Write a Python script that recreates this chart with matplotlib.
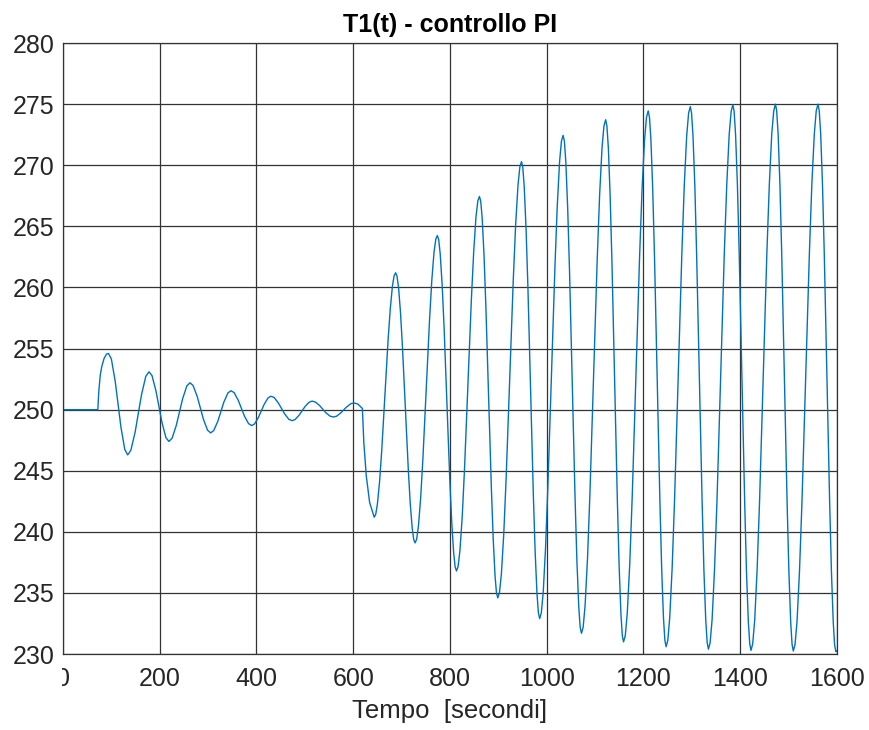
import numpy as np
import matplotlib
matplotlib.use("Agg")
import matplotlib.pyplot as plt
from matplotlib.transforms import Bbox

# T1(t): fase smorzata (0-619 s)
t_damped = [0, 72, 74, 77, 80, 85, 90, 94,
            100.0, 107.9, 113.9, 119.8, 127.7, 133.7,
            140.3, 149.1, 155.8, 162.4, 171.2, 177.8,
            184.0, 192.2, 198.4, 204.6, 212.8, 219.0,
            225.5, 234.2, 240.8, 247.3, 256.0, 262.5,
            268.9, 277.5, 283.9, 290.3, 298.9, 305.3,
            311.6, 320.0, 326.3, 332.6, 341.0, 347.3,
            353.7, 362.2, 368.7, 375.1, 383.6, 390.0,
            396.0, 404.0, 410.0, 416.0, 424.0, 430.0,
            436.5, 445.2, 451.8, 458.3, 467.0, 473.5,
            479.7, 488.0, 494.3, 500.5, 508.8, 515.0,
            521.6, 530.3, 536.9, 543.5, 552.2, 558.8,
            565.3, 573.9, 580.4, 586.9, 595.5, 602.0,
            610.0, 619.0]
T1_damped = [250.0, 250.0, 251.5, 252.8, 253.5, 254.2, 254.55, 254.6,
             254.15, 252.33, 250.45, 248.57, 246.75, 246.3,
             246.67, 248.16, 249.7, 251.24, 252.73, 253.1,
             252.79, 251.54, 250.25, 248.96, 247.71, 247.4,
             247.66, 248.71, 249.8, 250.89, 251.94, 252.2,
             251.98, 251.08, 250.15, 249.22, 248.32, 248.1,
             248.29, 249.04, 249.83, 250.62, 251.37, 251.55,
             251.40, 250.78, 250.13, 249.48, 248.86, 248.7,
             248.83, 249.36, 249.9, 250.44, 250.97, 251.1,
             251.0, 250.55, 250.1, 249.65, 249.21, 249.1,
             249.19, 249.54, 249.9, 250.26, 250.61, 250.7,
             250.63, 250.35, 250.05, 249.75, 249.47, 249.4,
             249.46, 249.72, 249.98, 250.24, 250.50, 250.55,
             250.45, 250.1]

# caduta brusca a t~620 s
t_drop = [622, 627, 634, 643.5]
T1_drop = [247.3, 244.6, 242.4, 241.2]

# fase instabile (oscillazioni crescenti), una riga per semiperiodo
t_unstable = [
    646.6, 650.1, 654.6, 659.0, 665.6, 672.2, 676.7, 681.1, 684.6, 687.7,
    690.5, 693.8, 697.8, 701.8, 707.9, 713.9, 717.9, 722.0, 725.2, 728.0,
    731.2, 734.9, 739.5, 744.1, 751.0, 757.9, 762.5, 767.1, 770.8, 774.0,
    776.8, 779.9, 783.9, 787.9, 793.8, 799.7, 803.7, 807.7, 810.8, 813.6,
    816.9, 820.7, 825.5, 830.2, 837.3, 844.4, 849.2, 853.9, 857.7, 861.0,
    863.7, 866.7, 870.5, 874.3, 880.0, 885.7, 889.5, 893.3, 896.3, 899.0,
    902.4, 906.4, 911.3, 916.2, 923.5, 930.9, 935.8, 940.7, 944.6, 948.0,
    950.6, 953.6, 957.4, 961.2, 966.8, 972.4, 976.2, 980.0, 983.0, 985.6,
    989.0, 992.9, 997.7, 1002.5, 1009.8, 1017.1, 1021.9, 1026.7, 1030.6, 1034.0,
    1036.7, 1039.7, 1043.5, 1047.3, 1053.0, 1058.7, 1062.5, 1066.3, 1069.3, 1072.0,
    1075.5, 1079.5, 1084.5, 1089.5, 1097.0, 1104.5, 1109.5, 1114.5, 1118.5, 1122.0,
    1124.6, 1127.6, 1131.3, 1135.0, 1140.5, 1146.1, 1149.8, 1153.5, 1156.4, 1159.0,
    1162.6, 1166.7, 1171.8, 1176.9, 1184.5, 1192.2, 1197.3, 1202.4, 1206.4, 1210.0,
    1212.6, 1215.6, 1219.3, 1223.0, 1228.5, 1234.1, 1237.8, 1241.5, 1244.4, 1247.0,
    1250.5, 1254.5, 1259.5, 1264.5, 1272.0, 1279.5, 1284.5, 1289.5, 1293.5, 1297.0,
    1299.6, 1302.6, 1306.4, 1310.1, 1315.8, 1321.4, 1325.1, 1328.9, 1331.9, 1334.5,
    1338.0, 1342.1, 1347.1, 1352.2, 1359.8, 1367.3, 1372.4, 1377.4, 1381.5, 1385.0,
    1387.6, 1390.6, 1394.4, 1398.1, 1403.8, 1409.4, 1413.1, 1416.9, 1419.9, 1422.5,
    1426.0, 1430.1, 1435.1, 1440.2, 1447.8, 1455.3, 1460.4, 1465.4, 1469.5, 1473.0,
    1475.6, 1478.6, 1482.3, 1486.0, 1491.5, 1497.1, 1500.8, 1504.5, 1507.4, 1510.0,
    1513.6, 1517.7, 1522.8, 1527.9, 1535.5, 1543.2, 1548.3, 1553.4, 1557.4, 1561.0,
    1563.6, 1566.6, 1570.3, 1574.0, 1579.5, 1585.1, 1588.8, 1592.5, 1595.4, 1598.0,
    1600.0]
T1_unstable = [
    241.44, 242.29, 244.13, 246.66, 251.2, 255.74, 258.27, 260.11, 260.96, 261.2,
    260.94, 260.0, 257.96, 255.17, 250.15, 245.13, 242.34, 240.3, 239.36, 239.1,
    239.40, 240.47, 242.79, 245.97, 251.68, 257.38, 260.57, 262.88, 263.95, 264.25,
    263.92, 262.75, 260.23, 256.76, 250.53, 244.29, 240.82, 238.30, 237.13, 236.8,
    237.17, 238.47, 241.29, 245.17, 252.13, 259.08, 262.96, 265.78, 267.08, 267.45,
    267.06, 265.66, 262.64, 258.48, 251.03, 243.57, 239.41, 236.39, 234.99, 234.6,
    235.03, 236.55, 239.83, 244.35, 252.45, 260.55, 265.07, 268.35, 269.87, 270.3,
    269.85, 268.26, 264.82, 260.09, 251.6, 243.11, 238.38, 234.94, 233.35, 232.9,
    233.38, 235.06, 238.69, 243.70, 252.68, 261.65, 266.66, 270.29, 271.98, 272.45,
    271.96, 270.23, 266.48, 261.33, 252.08, 242.82, 237.67, 233.92, 232.19, 231.7,
    232.20, 233.99, 237.86, 243.17, 252.72, 262.26, 267.57, 271.44, 273.23, 273.73,
    273.22, 271.40, 267.47, 262.07, 252.37, 242.67, 237.26, 233.33, 231.51, 231.0,
    231.52, 233.37, 237.37, 242.86, 252.73, 262.59, 268.09, 272.08, 273.93, 274.45,
    273.92, 272.06, 268.03, 262.48, 252.53, 242.57, 237.02, 232.99, 231.13, 230.6,
    231.13, 233.01, 237.08, 242.67, 252.7, 262.73, 268.32, 272.39, 274.27, 274.8,
    274.27, 272.38, 268.30, 262.68, 252.6, 242.52, 236.90, 232.82, 230.93, 230.4,
    230.93, 232.83, 236.93, 242.56, 252.68, 262.79, 268.42, 272.52, 274.42, 274.95,
    274.41, 272.52, 268.41, 262.76, 252.63, 242.49, 236.84, 232.73, 230.84, 230.3,
    230.84, 232.74, 236.85, 242.50, 252.65, 262.80, 268.45, 272.56, 274.46, 275.0,
    274.46, 272.56, 268.44, 262.78, 252.63, 242.47, 236.81, 232.69, 230.79, 230.25,
    230.79, 232.69, 236.81, 242.47, 252.63, 262.78, 268.44, 272.56, 274.46, 275.0,
    274.46, 272.56, 268.44, 262.77, 252.6, 242.43, 236.76, 232.64, 230.74, 230.2,
    230.25]

x_ticks = [0, 200, 400, 600, 800, 1000, 1200, 1400, 1600]
y_ticks = [230, 235, 240, 245, 250, 255, 260, 265, 270, 275, 280]

t = np.concatenate([t_damped, t_drop, t_unstable])
T1 = np.concatenate([T1_damped, T1_drop, T1_unstable])

plt.rcParams['font.family'] = ['Liberation Sans', 'DejaVu Sans']

fig = plt.figure(figsize=(8.69, 7.30), dpi=100)
ax = fig.add_axes([0.0725, 0.104, 0.8905, 0.837])

ax.plot(t, T1, color='#0072BD', linewidth=1.0)

ax.set_xlim(0, 1600)
ax.set_ylim(230, 280)
ax.set_xticks(x_ticks)
ax.set_yticks(y_ticks)
ax.grid(True, color='#333333', linewidth=0.9)
ax.set_axisbelow(True)
for s in ax.spines.values():
    s.set_color('#333333')
    s.set_linewidth(0.9)
ax.tick_params(axis='both', length=0, labelsize=18, colors='#262626')
ax.tick_params(axis='x', pad=9)
ax.tick_params(axis='y', pad=6)

ax.set_title('T1(t) - controllo PI', fontsize=18, fontweight='bold', pad=8)
ax.set_xlabel('Tempo  [secondi]', fontsize=18.5, color='#262626', labelpad=6)

# lo "0" in basso a sinistra e' tagliato a meta' nell'originale
lab0 = ax.xaxis.get_major_ticks()[0].label1
lab0.set_clip_box(Bbox.from_extents(62, 0, 300, 200))
lab0.set_clip_on(True)

fig.savefig('out.png', dpi=100, facecolor='white')
